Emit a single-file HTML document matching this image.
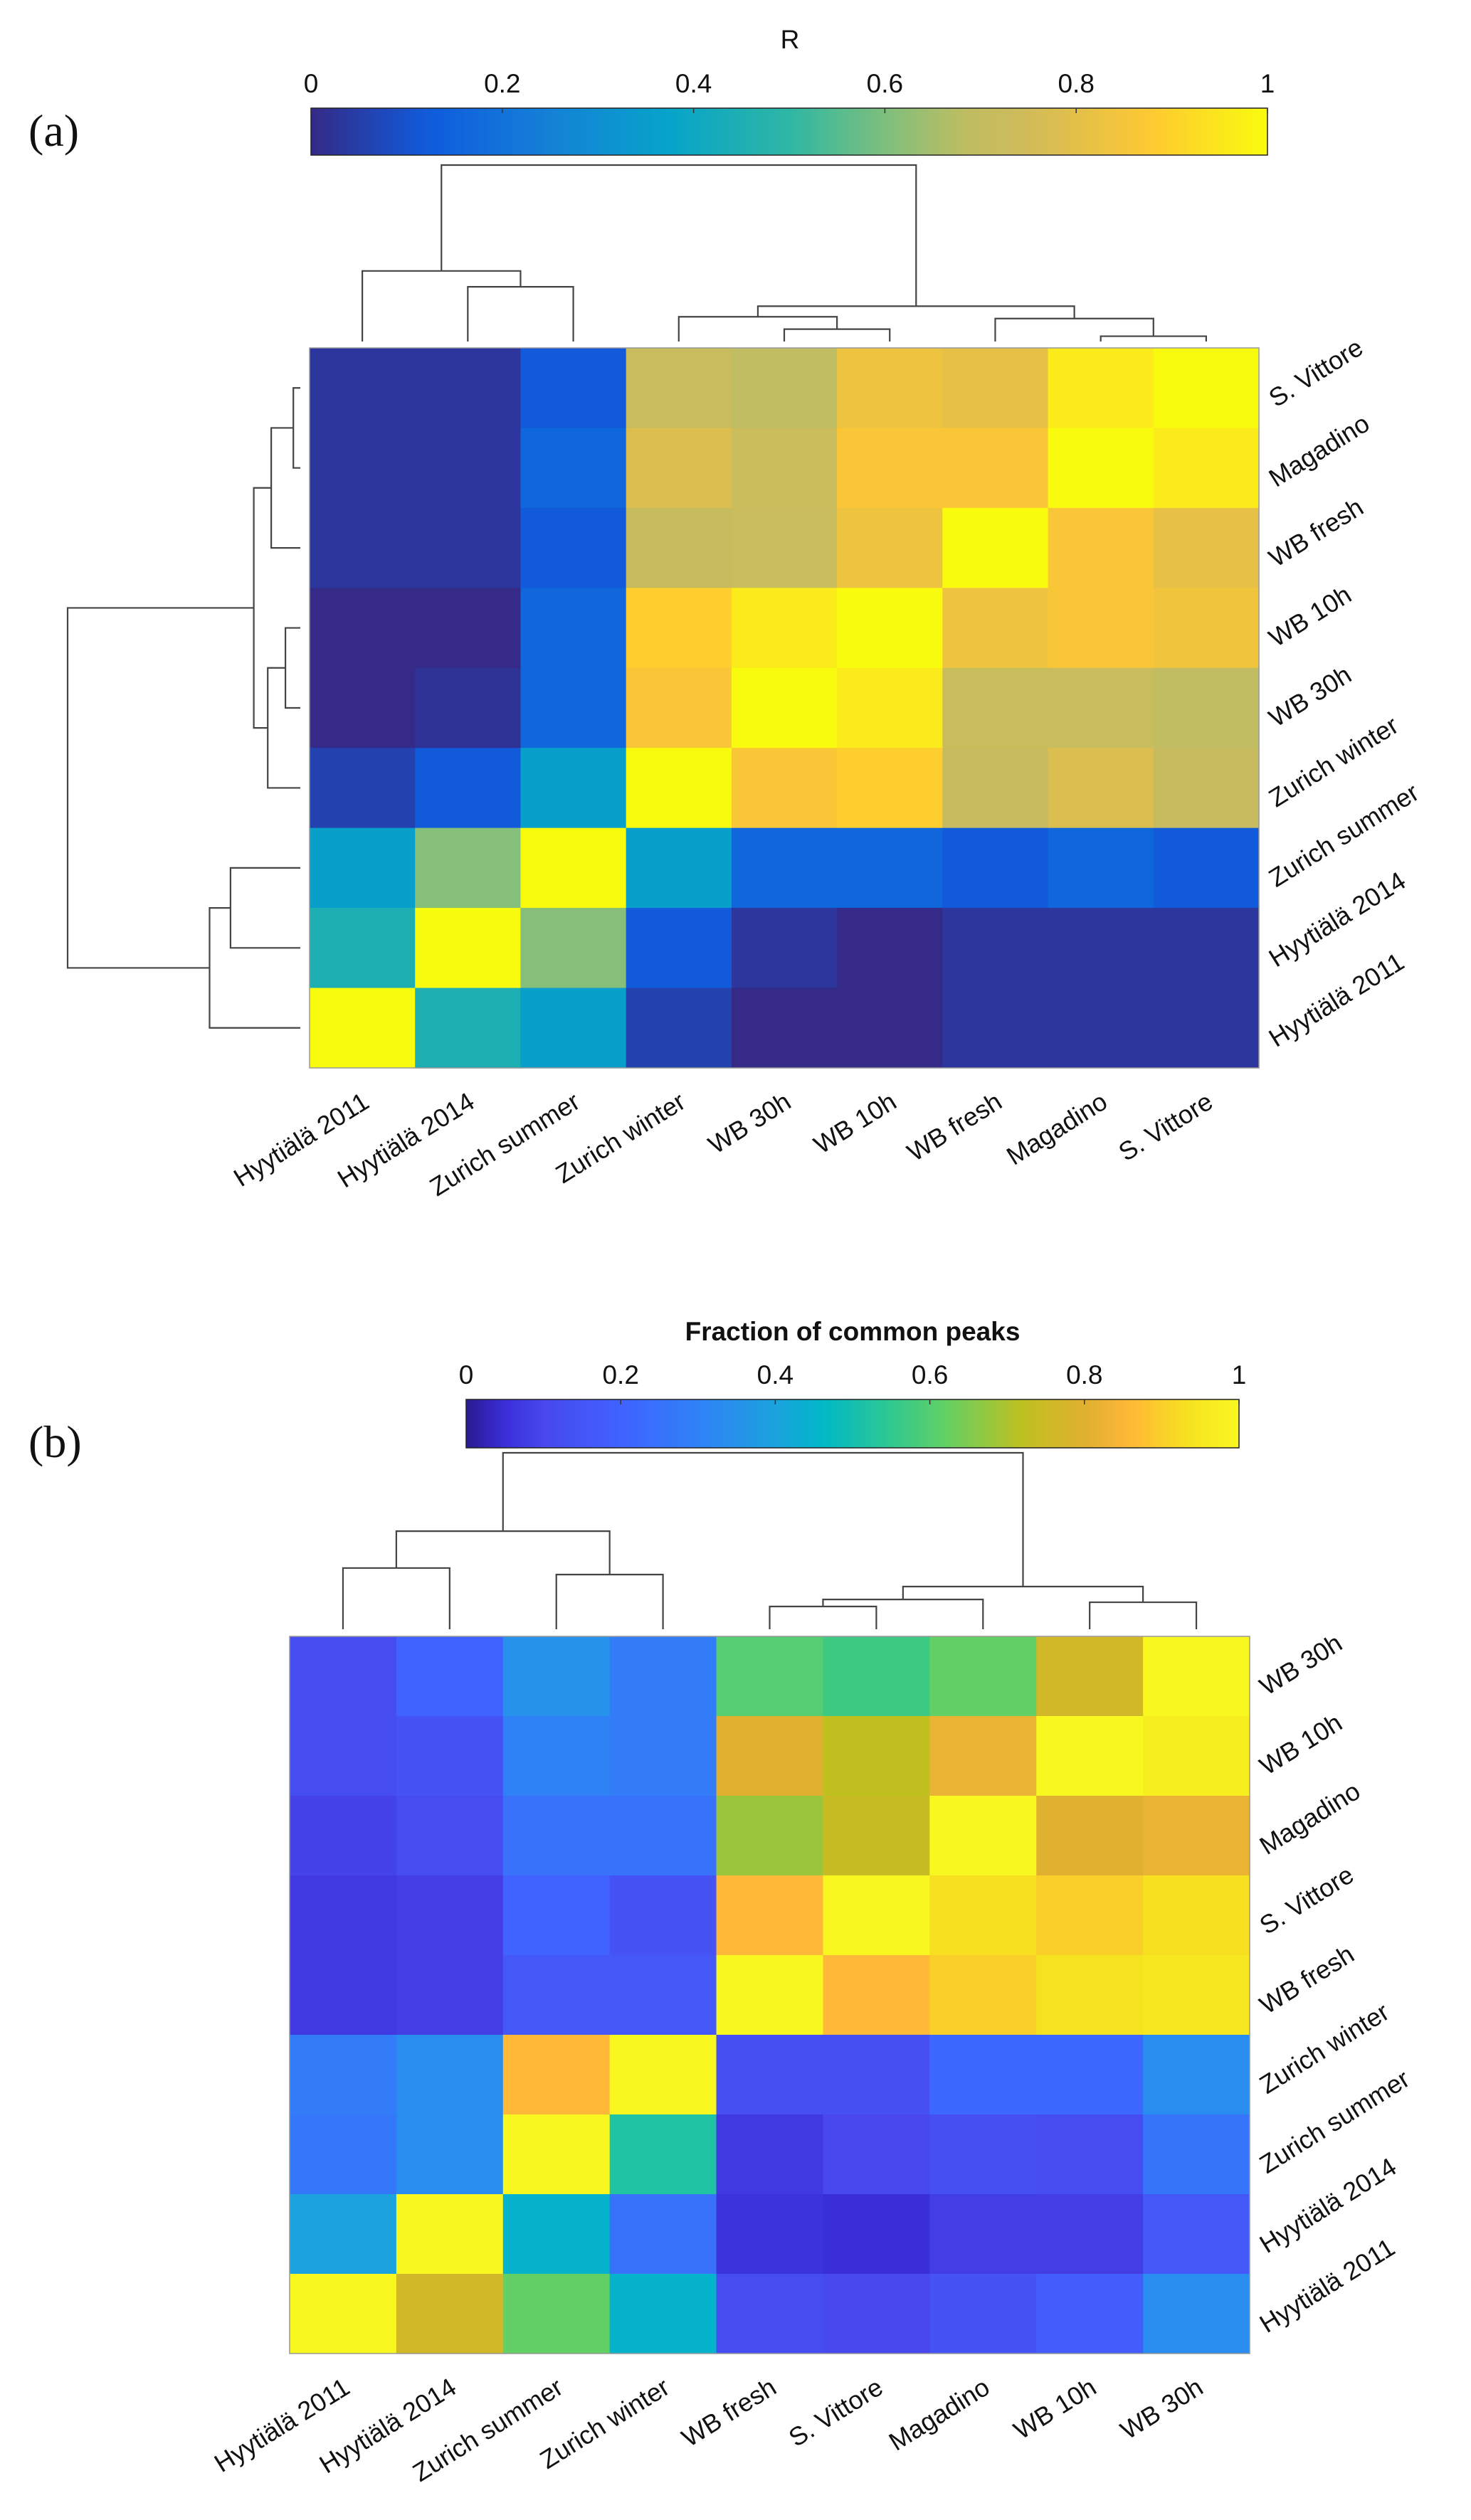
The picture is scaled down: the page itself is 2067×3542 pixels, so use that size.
<!DOCTYPE html>
<html><head><meta charset="utf-8">
<style>
html,body{margin:0;padding:0;background:#fff;}
svg{display:block;}
text{font-family:"Liberation Sans",Arial,sans-serif;fill:#111;}
</style></head>
<body>
<svg id="fig" width="2067" height="3542" viewBox="0 0 2067 3542" xmlns="http://www.w3.org/2000/svg">
<rect width="2067" height="3542" fill="#fff"/>
<defs>
<linearGradient id="gA" x1="0" x2="1" y1="0" y2="0"></linearGradient>
<linearGradient id="gB" x1="0" x2="1" y1="0" y2="0"></linearGradient>
</defs>
<text x="40" y="205" style="font-family:'Liberation Serif',serif;font-size:64px">(a)</text>
<text x="40" y="2048" style="font-family:'Liberation Serif',serif;font-size:64px">(b)</text>
<g id="A"></g>
<g id="B"></g>
</svg>
<script>
// ---------- Panel (a) data ----------
const colLabelsA = ["Hyytiälä 2011","Hyytiälä 2014","Zurich summer","Zurich winter","WB 30h","WB 10h","WB fresh","Magadino","S. Vittore"];
const rowLabelsA = ["S. Vittore","Magadino","WB fresh","WB 10h","WB 30h","Zurich winter","Zurich summer","Hyytiälä 2014","Hyytiälä 2011"];
const valuesA = [
 [0.03,0.03,0.12,0.72,0.69,0.83,0.81,0.96,1.00],
 [0.03,0.03,0.16,0.78,0.73,0.86,0.86,1.00,0.96],
 [0.03,0.03,0.12,0.71,0.72,0.83,1.00,0.86,0.81],
 [0.00,0.00,0.16,0.89,0.96,1.00,0.83,0.86,0.84],
 [0.00,0.02,0.16,0.86,1.00,0.96,0.72,0.72,0.69],
 [0.06,0.12,0.36,1.00,0.86,0.89,0.71,0.78,0.71],
 [0.36,0.61,1.00,0.36,0.16,0.16,0.12,0.16,0.12],
 [0.45,1.00,0.61,0.12,0.03,0.00,0.03,0.03,0.03],
 [1.00,0.45,0.36,0.06,0.00,0.00,0.03,0.03,0.03]
];
const cbTicksA = [0,0.2,0.4,0.6,0.8,1];
const cbTickLabelsA = ["0","0.2","0.4","0.6","0.8","1"];
const topMergesA = [[1,2,0.31],[0,9,0.40],[4,5,0.07],[3,11,0.14],[7,8,0.03],[6,13,0.13],[12,14,0.20],[10,15,1.0]];
const leftMergesA = [[0,1,0.03],[2,9,0.125],[3,4,0.064],[5,11,0.14],[10,12,0.20],[6,7,0.30],[8,14,0.39],[13,15,1.0]];

// ---------- Panel (b) data ----------
const colLabelsB = ["Hyytiälä 2011","Hyytiälä 2014","Zurich summer","Zurich winter","WB fresh","S. Vittore","Magadino","WB 10h","WB 30h"];
const rowLabelsB = ["WB 30h","WB 10h","Magadino","S. Vittore","WB fresh","Zurich winter","Zurich summer","Hyytiälä 2014","Hyytiälä 2011"];
const valuesB = [
 [0.12,0.20,0.35,0.28,0.60,0.57,0.62,0.76,1.00],
 [0.12,0.14,0.30,0.28,0.80,0.72,0.82,1.00,0.97],
 [0.09,0.12,0.25,0.25,0.68,0.74,1.00,0.80,0.82],
 [0.07,0.08,0.20,0.14,0.86,1.00,0.93,0.90,0.93],
 [0.07,0.08,0.16,0.16,1.00,0.86,0.90,0.94,0.95],
 [0.28,0.33,0.86,1.00,0.13,0.13,0.22,0.22,0.33],
 [0.27,0.33,1.00,0.52,0.07,0.10,0.13,0.12,0.26],
 [0.40,1.00,0.45,0.25,0.06,0.05,0.08,0.08,0.16],
 [1.00,0.76,0.62,0.45,0.12,0.10,0.14,0.18,0.33]
];
const cbTicksB = [0,0.2,0.4,0.6,0.8,1];
const cbTickLabelsB = ["0","0.2","0.4","0.6","0.8","1"];
const topMergesB = [[0,1,0.347],[2,3,0.31],[9,10,0.556],[4,5,0.129],[12,6,0.169],[7,8,0.153],[13,14,0.242],[11,15,1.0]];

// ---------- colormaps ----------
const parula = [[0,"#352A87"],[0.125,"#0F5CDD"],[0.25,"#1481D6"],[0.375,"#06A4CA"],[0.5,"#2EB7A4"],[0.6,"#7DBF7C"],[0.68,"#BDBD63"],[0.75,"#D1BB59"],[0.875,"#FEC832"],[1,"#F9FB0E"]];
const cmapB = [[0,"#2A1A90"],[0.05,"#3A2ED8"],[0.1,"#4848EC"],[0.2,"#4062FF"],[0.3,"#2F82F6"],[0.4,"#1CA2DE"],[0.46,"#00B8C8"],[0.55,"#30C890"],[0.62,"#62D064"],[0.72,"#C0C020"],[0.8,"#E0B030"],[0.86,"#FFB838"],[0.93,"#F6E020"],[1,"#F8F820"]];

function hex(h){return [1,3,5].map(i=>parseInt(h.substr(i,2),16));}
function cmap(stops,v){
  v=Math.max(0,Math.min(1,v));
  for(let i=0;i<stops.length-1;i++){
    const [a,ca]=stops[i],[b,cb]=stops[i+1];
    if(v<=b){const t=(v-a)/(b-a||1);const A=hex(ca),B=hex(cb);
      return "rgb("+A.map((x,k)=>Math.round(x+(B[k]-x)*t)).join(",")+")";}
  }
  return stops[stops.length-1][1];
}
const NS="http://www.w3.org/2000/svg";
function el(tag,attrs,parent){const e=document.createElementNS(NS,tag);for(const k in attrs)e.setAttribute(k,attrs[k]);parent.appendChild(e);return e;}

function drawPanel(g,cfg){
  const {x0,y0,x1,y1,values,rows,cols,stops,cb,ticks,tickLabels,title,titleBold,titleY}=cfg;
  const n=cols.length,m=rows.length;
  const cw=(x1-x0)/n,ch=(y1-y0)/m;
  const xs=i=>x0+i*cw, ys=j=>y0+j*ch;
  const hm=el("g",{},g);
  
  
  for(let r=0;r<m;r++)for(let c=0;c<n;c++){
    const rc=el("rect",{x:xs(c),y:ys(r),width:cw+0.6,height:ch+0.6,fill:cmap(stops,values[r][c])},hm);
    
    
  }
  el("rect",{x:x0,y:y0,width:x1-x0,height:y1-y0,fill:"none",stroke:"#999","stroke-width":1.5},hm);
  cols.forEach((t,i)=>{
    const cx=xs(i)+cw/2+12, cy=y1+54;
    const tx=el("text",{x:cx,y:cy,"font-size":36,"text-anchor":"end",transform:`rotate(-32 ${cx} ${cy})`},g);
    tx.textContent=t;
    
    
  });
  rows.forEach((t,j)=>{
    const rx=x1+24, ry=ys(j)+ch/2+28;
    const tx=el("text",{x:rx,y:ry,"font-size":36,transform:`rotate(-32 ${rx} ${ry})`},g);
    tx.textContent=t;
    
    
  });
  const grad=document.getElementById(cfg.gid);
  for(let k=0;k<=60;k++){const v=k/60;el("stop",{offset:v,"stop-color":cmap(stops,v)},grad);}
  const cbg=el("g",{},g);
  
  
  el("rect",{x:cb.x0,y:cb.y0,width:cb.x1-cb.x0,height:cb.y1-cb.y0,fill:`url(#${cfg.gid})`,stroke:"#222","stroke-width":1.5},cbg);
  const cbx=v=>cb.x0+v*(cb.x1-cb.x0);
  ticks.forEach((v,i)=>{
    el("line",{x1:cbx(v),x2:cbx(v),y1:cb.y0,y2:cb.y0+7,stroke:"#333","stroke-width":1.5},cbg);
    const tx=el("text",{x:cbx(v),y:cb.y0-22,"font-size":37,"text-anchor":"middle"},cbg);
    tx.textContent=tickLabels[i];
    
    
  });
  const tt=el("text",{x:cfg.titleX,y:titleY,"font-size":37,"text-anchor":"middle","font-weight":titleBold?"bold":"normal"},g);
  tt.textContent=title;
  
  
  return {xs,ys,cw,ch};
}

function dendro(g,merges,nLeaves,leafPos,base,span,horizontal){
  const pos=leafPos.slice(), hts=new Array(nLeaves).fill(0);
  const dg=el("g",{fill:"none",stroke:"#444","stroke-width":2.2},g);
  
  
  const coord=h=>base-h*span;
  merges.forEach(([a,b,h])=>{
    const pa=pos[a],pb=pos[b],ha=hts[a],hb=hts[b];
    let d;
    if(!horizontal) d=`M${pa},${coord(ha)}V${coord(h)}H${pb}V${coord(hb)}`;
    else d=`M${coord(ha)},${pa}H${coord(h)}V${pb}H${coord(hb)}`;
    el("path",{d},dg);
    pos.push((pa+pb)/2); hts.push(h);
  });
}

const gA=document.getElementById("A");
const pA=drawPanel(gA,{x0:435,y0:489,x1:1769,y1:1501,values:valuesA,rows:rowLabelsA,cols:colLabelsA,stops:parula,
  cb:{x0:437,y0:152,x1:1781,y1:218},ticks:cbTicksA,tickLabels:cbTickLabelsA,title:"R",titleBold:false,titleX:1110,titleY:68,gid:"gA"});
dendro(gA,topMergesA,9,colLabelsA.map((_,i)=>pA.xs(i)+pA.cw/2),480,248,false);
dendro(gA,leftMergesA,9,rowLabelsA.map((_,j)=>pA.ys(j)+pA.ch/2),422,327,true);

const gB=document.getElementById("B");
const pB=drawPanel(gB,{x0:407,y0:2300,x1:1756,y1:3308,values:valuesB,rows:rowLabelsB,cols:colLabelsB,stops:cmapB,
  cb:{x0:655,y0:1967,x1:1741,y1:2035},ticks:cbTicksB,tickLabels:cbTickLabelsB,title:"Fraction of common peaks",titleBold:true,titleX:1198,titleY:1884,gid:"gB"});
dendro(gB,topMergesB,9,colLabelsB.map((_,i)=>pB.xs(i)+pB.cw/2),2290,248,false);
</script>
</body></html>
